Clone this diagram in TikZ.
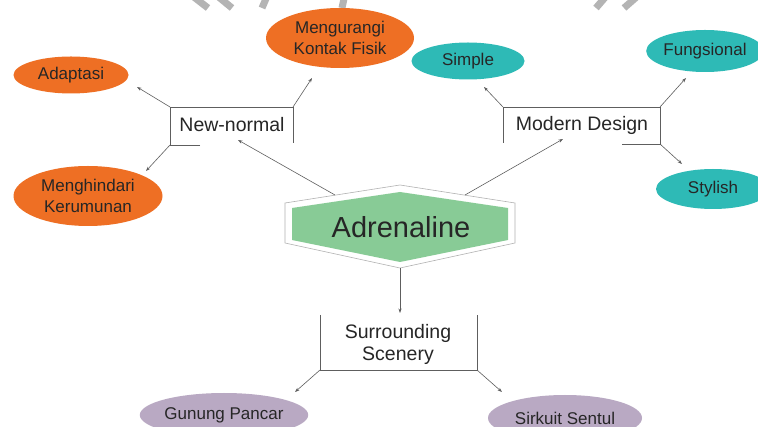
\documentclass[tikz,border=0pt]{standalone}
\usepackage{fontspec}
\setmainfont{Liberation Sans}
\usetikzlibrary{arrows.meta,shapes.geometric}
\definecolor{orgc}{HTML}{EE6F24}
\definecolor{tealc}{HTML}{2EBAB6}
\definecolor{lilc}{HTML}{B9A9C3}
\definecolor{grnc}{HTML}{88CB96}
\definecolor{txtc}{HTML}{262626}
\definecolor{lnc}{HTML}{5E5E5E}
\definecolor{wmc}{HTML}{B4B4B4}
\begin{document}
\begin{tikzpicture}[x=1pt,y=-1pt,
  bub/.style={ellipse, inner sep=0pt, text=txtc, font=\fontsize{17}{21}\selectfont, align=center},
  obub/.style={bub, fill=orgc},
  tbub/.style={bub, fill=tealc},
  lbub/.style={bub, fill=lilc},
  lab/.style={text=txtc, font=\fontsize{19.5}{22}\selectfont, align=center, inner sep=0pt},
  brk/.style={draw=lnc, line width=0.6pt},
  arr/.style={brk, -{Stealth[length=4.5pt,width=3.2pt]}},
  wm/.style={draw=wmc, line width=7pt}]
\useasboundingbox (0,0) rectangle (758,427);
\clip (0,0) rectangle (758,427);
\fill[white] (0,0) rectangle (758,427);

% watermark fragments at the top
\draw[wm] (190,-6) -- (208,8);
\draw[wm] (215,-6) -- (232,8);
\draw[wm] (268,-6) -- (262,8);
\draw[wm] (345,-6) -- (342,8);
\draw[wm] (608,-6) -- (596,8);
\draw[wm] (640,-6) -- (624,8);

% ellipses
\node[obub, minimum width=115pt, minimum height=37pt] (adapt) at (71,75) {Adaptasi};
\node[obub, minimum width=148pt, minimum height=60pt] (kontak) at (340,38) {Mengurangi\\Kontak Fisik};
\node[obub, minimum width=149pt, minimum height=60pt] (hindar) at (88,196) {Menghindari\\Kerumunan};
\node[tbub, minimum width=113pt, minimum height=37pt] (simple) at (468,61) {Simple};
\node[tbub, minimum width=116pt, minimum height=42pt] (fungs) at (705,51) {Fungsional};
\node[tbub, minimum width=114pt, minimum height=40pt] (styl) at (713,189) {Stylish};
\node[lbub, minimum width=150pt, minimum height=44pt] (gunung) at (224,415) {Gunung Pancar};
\node[lbub, minimum width=154pt, minimum height=46pt] (sirkuit) at (565,418) {Sirkuit Sentul};

% central hexagon
\draw[draw=gray!60, fill=white, line width=0.6pt] (285,203) -- (400,185) -- (515,203) -- (515,243) -- (400,268) -- (285,243) -- cycle;
\fill[grnc] (292,208) -- (400,192) -- (508,208) -- (508,240) -- (400,262) -- (292,240) -- cycle;
\node[text=txtc, font=\fontsize{29}{32}\selectfont, inner sep=0pt] (adr) at (401,227) {Adrenaline};
\coordinate (hexNW) at (335,195);
\coordinate (hexNE) at (465,195);
\coordinate (hexS) at (400,268);

% New-normal bracket
\node[lab] (nn) at (232,125) {New-normal};
\coordinate (nnTL) at (170,107);
\coordinate (nnTR) at (293,107);
\coordinate (nnBL) at (170,145);
\coordinate (nnBLe) at (200,145);
\coordinate (nnBR) at (293,143);
\coordinate (nnIn) at (238,140);
\draw[brk] (nnBLe) -- (nnBL) -- (nnTL) -- (nnTR) -- (nnBR);
\coordinate (tAdapt) at (137,87);
\coordinate (tKontak) at (312,78);
\coordinate (tHindar) at (146,171);
\draw[arr] (nnTL) -- (tAdapt);
\draw[arr] (nnTR) -- (tKontak);
\draw[arr] (nnBL) -- (tHindar);
\draw[arr] (hexNW) -- (nnIn);

% Modern Design bracket
\node[lab] (md) at (582,125) {Modern Design};
\coordinate (mdTL) at (503,107);
\coordinate (mdTR) at (660,107);
\coordinate (mdBL) at (503,143);
\coordinate (mdBR) at (660,144);
\coordinate (mdBRe) at (622,144);
\coordinate (mdIn) at (563,139);
\draw[brk] (mdBL) -- (mdTL) -- (mdTR) -- (mdBR) -- (mdBRe);
\coordinate (tSimple) at (484,87);
\coordinate (tFungs) at (686,78);
\coordinate (tStyl) at (682,164);
\draw[arr] (mdTL) -- (tSimple);
\draw[arr] (mdTR) -- (tFungs);
\draw[arr] (mdBR) -- (tStyl);
\draw[arr] (hexNE) -- (mdIn);

% Surrounding Scenery bracket
\node[lab] (ss) at (398,344) {Surrounding\\Scenery};
\coordinate (ssTL) at (320,315);
\coordinate (ssTR) at (477,315);
\coordinate (ssBL) at (320,370);
\coordinate (ssBR) at (477,370);
\coordinate (ssIn) at (400,313);
\draw[brk] (ssTL) -- (ssBL) -- (ssBR) -- (ssTR);
\coordinate (tGunung) at (295,392);
\coordinate (tSirkuit) at (502,392);
\draw[arr] (ssBL) -- (tGunung);
\draw[arr] (ssBR) -- (tSirkuit);
\draw[arr] (hexS) -- (ssIn);
\end{tikzpicture}
\end{document}
